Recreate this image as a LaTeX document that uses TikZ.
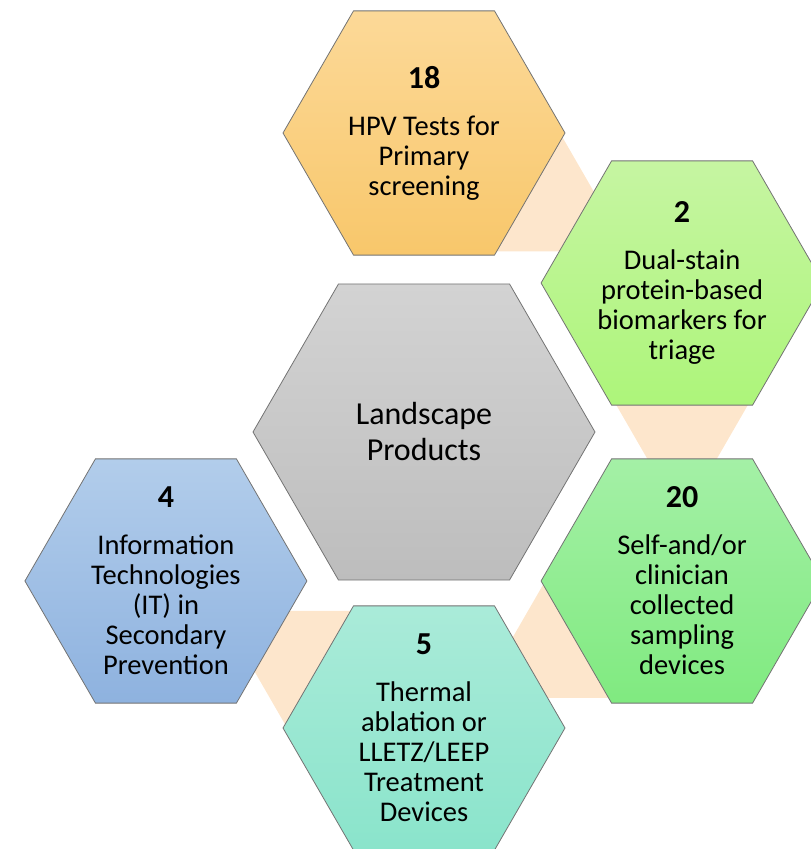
\documentclass[tikz,border=0pt]{standalone}
\usepackage{fontspec}
\setmainfont{Carlito}
\usetikzlibrary{shapes.geometric,positioning,calc,backgrounds}
\tikzset{
	hexcell/.style={
		regular polygon, regular polygon sides=6, minimum size=282pt, inner sep=-30pt,
		draw=black!55, line width=0.8pt, align=center, text=black,
		font=\fontsize{28.5}{30}\selectfont
	},
	%
	bighexcell/.style={
		hexcell, minimum size=342pt, font=\fontsize{32}{36}\selectfont,
		top color=cgtop, bottom color=cgbot
	},
	%
	link/.style={
		regular polygon, regular polygon sides=3, minimum size=174pt, inner sep=0pt,
		fill=c0, draw=none
	}
}
\definecolor{c0}{HTML}{FDE6CC}
\definecolor{cgtop}{HTML}{D3D3D3}
\definecolor{cgbot}{HTML}{BDBDBD}
\definecolor{c1top}{HTML}{FCD998}
\definecolor{c1bot}{HTML}{F8C76B}
\definecolor{c2top}{HTML}{C6F5A2}
\definecolor{c2bot}{HTML}{ADF57A}
\definecolor{c3top}{HTML}{A4F0A6}
\definecolor{c3bot}{HTML}{80EA80}
\definecolor{c4top}{HTML}{AAEBD9}
\definecolor{c4bot}{HTML}{8AE4CB}
\definecolor{c5top}{HTML}{B2CDEB}
\definecolor{c5bot}{HTML}{8EB2DF}
\newcommand{\hexnum}[1]{{\bfseries\fontsize{32}{30}\selectfont #1}\\[17pt]}

\begin{document}
\begin{tikzpicture}[x=1pt, y=1pt]
    \useasboundingbox (0,0) rectangle (811,849);
    \clip (0,0) rectangle (811,849);
    \node(land)[bighexcell] at (424,417) {Landscape\\Products};
    \node(hpv)[hexcell, top color=c1top, bottom color=c1bot] at ($(land)+(90:299)$) {
    \hexnum{18}HPV Tests for\\Primary\\screening
    };
    \node(dual)[hexcell, top color=c2top, bottom color=c2bot] at ($(land)+(30:298)$) {
    \hexnum{2}Dual-stain\\protein-based\\biomarkers for\\triage
    };
    \node(self)[hexcell, top color=c3top, bottom color=c3bot] at ($(land)+(-30:298)$) {
    \hexnum{20}Self-and/or\\clinician\\collected\\sampling\\devices
    };
    \node(treat)[hexcell, top color=c4top, bottom color=c4bot] at ($(land)+(-90:296)$) {
    \hexnum{5}Thermal\\ablation or\\LLETZ/LEEP\\Treatment\\Devices
    };
    \node(info)[hexcell, top color=c5top, bottom color=c5bot] at ($(land)+(-150:298)$) {
    \hexnum{4}Information\\Technologies\\(IT) in\\Secondary\\Prevention
    };
    % links between neighbours
    \begin{scope}[on background layer]
        \node(l1)[link] at ($(hpv)!0.5!(dual)$) {};
        \node(l2)[link, shape border rotate=180] at ($(dual)!0.5!(self)$) {};
        \node(l3)[link] at ($(self)!0.5!(treat)$) {};
        \node(l4)[link, shape border rotate=180] at ($(treat)!0.5!(info)$) {};
    \end{scope}
\end{tikzpicture}
\end{document}
